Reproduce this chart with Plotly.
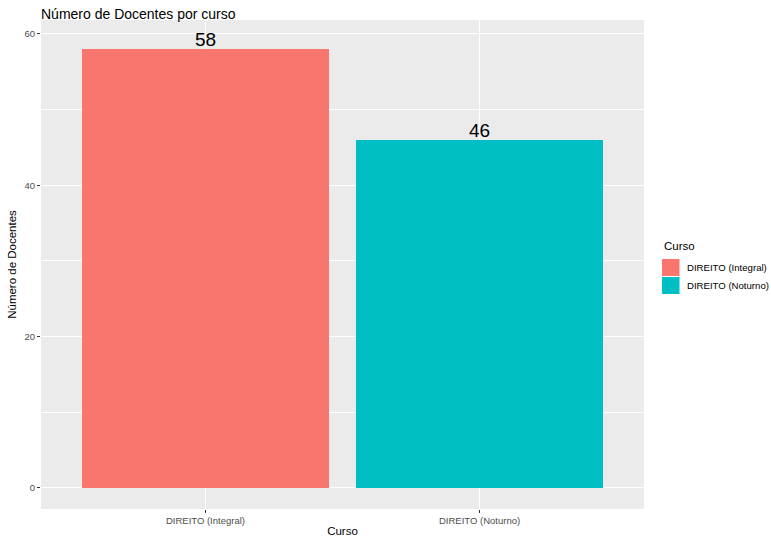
import plotly.graph_objects as go

cursos = ["DIREITO (Integral)", "DIREITO (Noturno)"]
docentes = [58, 46]
cores = ["#F8766D", "#00BFC4"]

W, H = 771, 537
L, R, T, B = 41, 127, 20, 28
pw, ph = W - L - R, H - T - B

def px(x):
    return (x - L) / pw

def py(y):
    return (H - B - y) / ph

FONT = "Liberation Sans, Arial, Helvetica, sans-serif"

fig = go.Figure()
for c, v, col in zip(cursos, docentes, cores):
    fig.add_trace(go.Bar(
        x=[c], y=[v], name=c, marker=dict(color=col, line=dict(width=0)),
        width=0.9, showlegend=False, hoverinfo="x+y",
    ))

shapes = []
annotations = []
for c, v in zip(cursos, docentes):
    annotations.append(dict(x=c, y=v, xref="x", yref="y", text=str(v), showarrow=False,
                            xanchor="center", yanchor="bottom", yshift=-3,
                            font=dict(size=19, color="black", family=FONT)))
annotations.append(dict(x=px(662), y=py(246), xref="paper", yref="paper",
                        text="Curso", showarrow=False, xanchor="left", yanchor="middle",
                        font=dict(size=11.5, color="black", family=FONT)))
key_tops = [259, 277]
for c, col, top in zip(cursos, cores, key_tops):
    shapes.append(dict(type="rect", xref="paper", yref="paper",
                       x0=px(662), x1=px(679.5), y0=py(top), y1=py(top + 17),
                       fillcolor=col, line=dict(width=0)))
    annotations.append(dict(x=px(685), y=py(top + 8.5), xref="paper", yref="paper",
                            text=c, showarrow=False, xanchor="left", yanchor="middle",
                            font=dict(size=9.6, color="black", family=FONT)))

fig.update_layout(
    width=W, height=H,
    margin=dict(l=L, r=R, t=T, b=B, pad=0, autoexpand=False),
    paper_bgcolor="white", plot_bgcolor="#EBEBEB",
    barmode="overlay", bargap=0,
    font=dict(family=FONT),
    title=dict(text="Número de Docentes por curso", xref="paper", x=0, xanchor="left",
               yref="container", y=1 - 14 / H, yanchor="middle",
               font=dict(size=14, color="black", family=FONT)),
    shapes=shapes, annotations=annotations,
    xaxis=dict(
        type="category", categoryorder="array", categoryarray=cursos,
        range=[-0.6, 1.6], showgrid=True, gridcolor="white", gridwidth=1.1,
        ticks="outside", ticklen=3, tickcolor="#333333", tickwidth=1,
        tickfont=dict(size=9.5, color="#4D4D4D", family=FONT),
        title=dict(text="Curso", font=dict(size=11.5, color="black", family=FONT), standoff=3),
        zeroline=False, showline=False, automargin=False,
    ),
    yaxis=dict(
        range=[-2.8, 61.85], tickvals=[0, 20, 40, 60],
        showgrid=True, gridcolor="white", gridwidth=1.1,
        minor=dict(tickvals=[10, 30, 50], showgrid=True, gridcolor="white", gridwidth=0.5, ticks=""),
        ticks="outside", ticklen=3, tickcolor="#333333", tickwidth=1,
        tickfont=dict(size=9.5, color="#4D4D4D", family=FONT),
        title=dict(text="Número de Docentes", font=dict(size=11.5, color="black", family=FONT), standoff=5),
        zeroline=False, showline=False, automargin=False,
    ),
)

fig.write_html("out.html", config={"displayModeBar": False},
               post_script="document.body.style.margin='0';document.body.style.overflow='hidden';")
